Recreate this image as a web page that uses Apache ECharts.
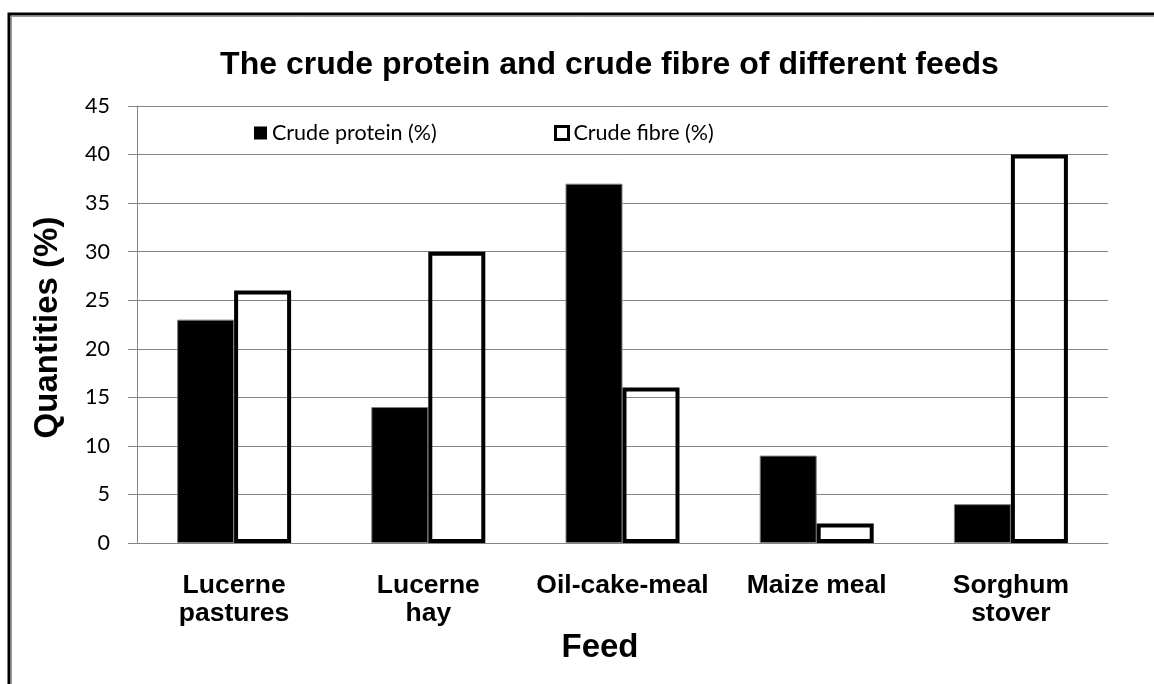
<!DOCTYPE html>
<html>
<head>
<meta charset="utf-8">
<script src="https://cdn.jsdelivr.net/npm/echarts@6/dist/echarts.min.js"></script>
<style>
html,body{margin:0;padding:0;background:#fff;}
#chart{width:1154px;height:684px;}
</style>
</head>
<body>
<div id="chart"></div>
<script>
var titleText = 'The crude protein and crude fibre of different feeds';
var categories = ['Lucerne\npastures', 'Lucerne\nhay', 'Oil-cake-meal', 'Maize meal', 'Sorghum\nstover'];
var proteinName = 'Crude protein (%)';
var fibreName = 'Crude fibre (%)';
var protein = [23, 14, 37, 9, 4];
var fibre = [26, 30, 16, 2, 40];
var yAxisName = 'Quantities (%)';
var xAxisName = 'Feed';

var chart = echarts.init(document.getElementById('chart'));
var grey = '#868686';
var legendText = {fontFamily: 'Lato', fontSize: 21.5, color: '#000'};

chart.setOption({
  backgroundColor: '#fff',
  animation: false,
  title: {
    text: titleText,
    left: 609.5,
    textAlign: 'center',
    top: 49,
    padding: 0,
    textStyle: {fontFamily: 'Liberation Sans, Arial', fontWeight: 'bold', fontSize: 32, lineHeight: 32, color: '#000'}
  },
  legend: [
    {
      data: [{name: proteinName, icon: 'rect', itemStyle: {color: '#000', borderWidth: 0}}],
      left: 254, top: 122, padding: 0,
      itemWidth: 13, itemHeight: 13,
      textStyle: legendText
    },
    {
      data: [{name: fibreName, icon: 'rect', itemStyle: {color: '#fff', borderColor: '#000', borderWidth: 3}}],
      left: 554, top: 122, padding: 0,
      itemWidth: 13, itemHeight: 13,
      textStyle: legendText
    }
  ],
  grid: {left: 137, right: 46, top: 106, bottom: 141, containLabel: false},
  xAxis: {
    type: 'category',
    data: categories,
    axisLine: {show: true, lineStyle: {color: grey, width: 1}},
    axisTick: {show: false},
    axisLabel: {
      margin: 29,
      fontFamily: 'Liberation Sans, Arial',
      fontWeight: 'bold',
      fontSize: 26.5,
      lineHeight: 28,
      color: '#000',
      interval: 0
    }
  },
  yAxis: {
    type: 'value',
    min: 0, max: 45, interval: 5,
    axisLine: {show: true, lineStyle: {color: grey, width: 1}},
    axisTick: {show: true, length: 9, lineStyle: {color: grey}},
    splitLine: {show: true, lineStyle: {color: grey, width: 1}},
    axisLabel: {margin: 27, fontFamily: 'Lato', fontSize: 21.5, color: '#000'}
  },
  series: [
    {
      name: proteinName,
      type: 'bar',
      data: protein,
      barWidth: 57,
      barGap: '0%',
      itemStyle: {color: '#000', borderColor: '#7f7f7f', borderWidth: 1}
    },
    {
      name: fibreName,
      type: 'bar',
      data: fibre,
      barWidth: 57,
      barGap: '0%',
      itemStyle: {color: 'rgba(255,255,255,0)', borderColor: '#000', borderWidth: 4}
    }
  ],
  graphic: [
    {
      type: 'rect', silent: true, z: 100,
      shape: {x: 9, y: 14, width: 1300, height: 800},
      style: {fill: 'none', stroke: '#000', lineWidth: 3}
    },
    {
      type: 'rect', silent: true, z: 100,
      shape: {x: 11.5, y: 16.5, width: 1300, height: 800},
      style: {fill: 'none', stroke: '#9a9a9a', lineWidth: 1}
    },
    {
      type: 'text', silent: true,
      x: 48, y: 327.5, rotation: Math.PI / 2,
      style: {text: yAxisName, fontFamily: 'Liberation Sans, Arial', fontWeight: 'bold', fontSize: 33,
               fill: '#000', align: 'center', verticalAlign: 'middle'}
    },
    {
      type: 'text', silent: true,
      x: 600, y: 648,
      style: {text: xAxisName, fontFamily: 'Liberation Sans, Arial', fontWeight: 'bold', fontSize: 33,
               fill: '#000', align: 'center', verticalAlign: 'middle'}
    }
  ]
});
</script>
</body>
</html>
